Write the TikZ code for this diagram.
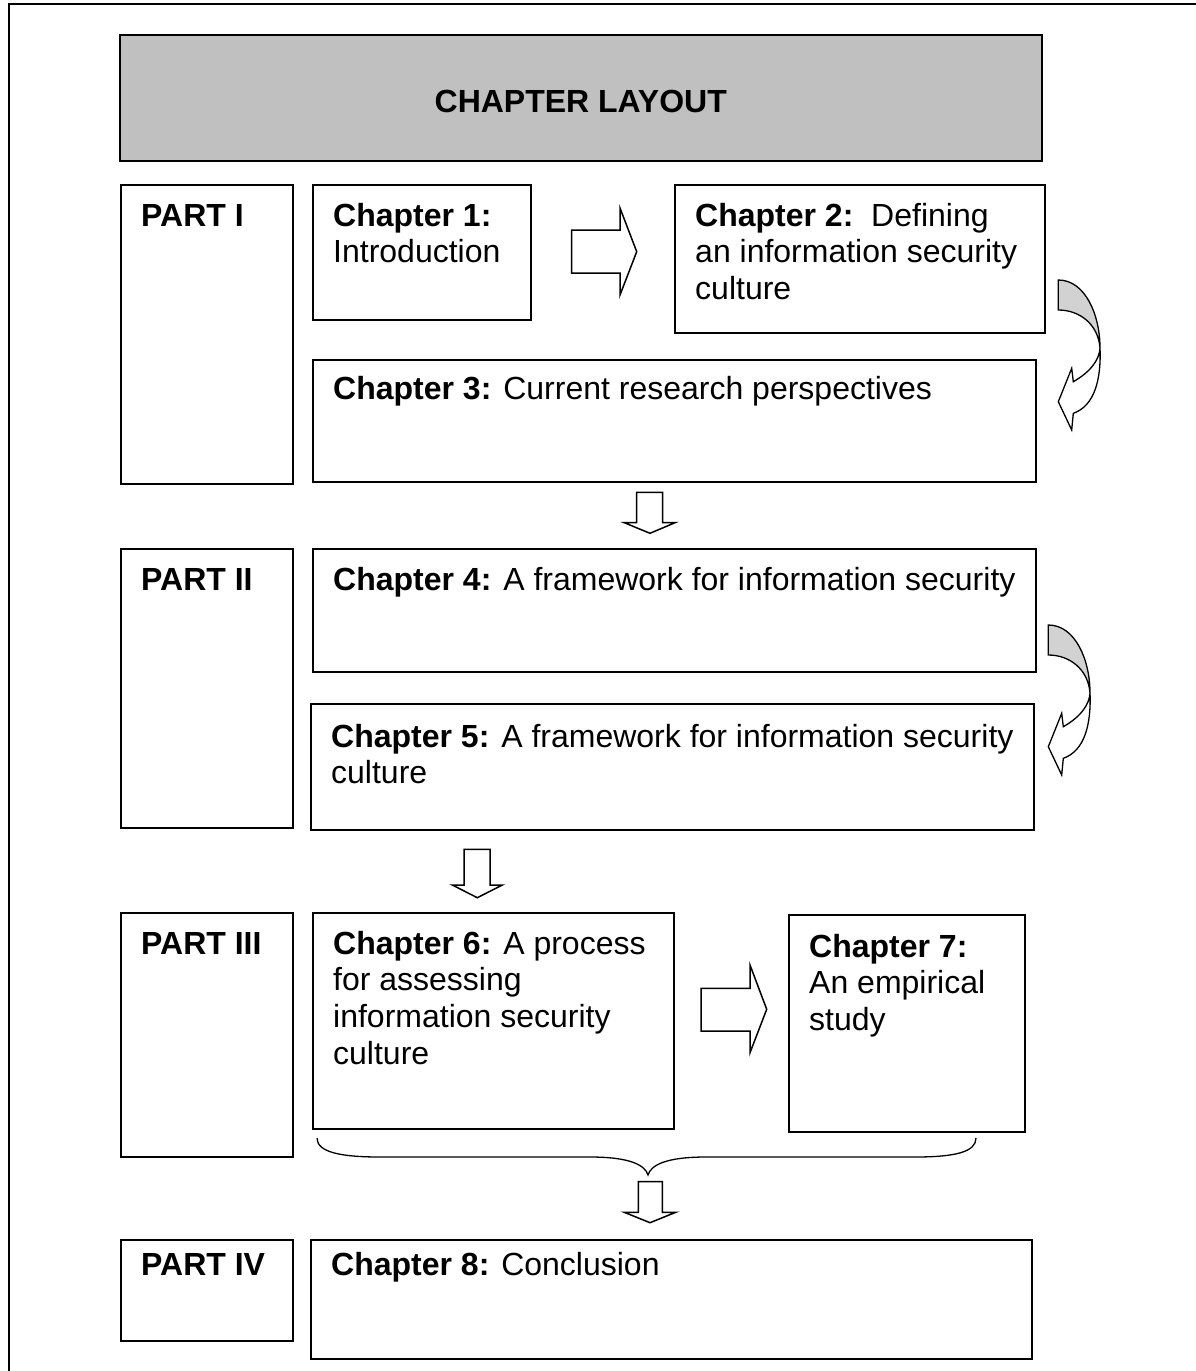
\documentclass[tikz,border=0pt]{standalone}
\usepackage{fontspec}
\setmainfont{Liberation Sans}
\usetikzlibrary{calc}
\definecolor{titlegray}{RGB}{192,192,192}
\definecolor{backgray}{RGB}{210,210,210}
\begin{document}
\begin{tikzpicture}[x=1pt,y=-1pt,line join=miter,
  box/.style={draw,line width=1.5pt,fill=white,inner sep=0pt,anchor=north west},
  txt/.style={anchor=north west,inner sep=0pt,align=left,font=\fontsize{32}{36.8}\selectfont},
  blockarrow/.style={draw,fill=white,line width=1.5pt},
  curvarrow/.pic={
    \filldraw[fill=backgray,line width=1.3pt] (0,0) .. controls (27,0) and (41.7,35) .. (41.7,68)
      .. controls (40,45) and (22,30) .. (0,30) -- cycle;
    \filldraw[fill=white,line width=1.3pt] (41.7,68) .. controls (43,100) and (36,126) .. (15,133.3)
      -- (13.4,150) -- (0,121.7) -- (13.4,88.3) -- (15,101.7)
      .. controls (32,92) and (41,80) .. (41.7,68) -- cycle;
  }]
\useasboundingbox (0,0) rectangle (1196,1371);
% outer frame (open at right and bottom)
\draw[line width=2pt] (9,1380) -- (9,4) -- (1205,4);

% title
\node[box,fill=titlegray,minimum width=922,minimum height=126] (title) at (119,34) {};
\node[font=\fontsize{32}{36.8}\selectfont\bfseries,inner sep=0pt] (titletxt) at ($(title.center)+(0,4)$) {CHAPTER LAYOUT};

% boxes
\node[box,minimum width=172,minimum height=299] (p1) at (120,184) {};
\node[box,minimum width=218,minimum height=135] (c1) at (312,184) {};
\node[box,minimum width=370,minimum height=148] (c2) at (674,184) {};
\node[box,minimum width=723,minimum height=122] (c3) at (312,359) {};
\node[box,minimum width=172,minimum height=279] (p2) at (120,548) {};
\node[box,minimum width=723,minimum height=123] (c4) at (312,548) {};
\node[box,minimum width=723,minimum height=126] (c5) at (310,703) {};
\node[box,minimum width=172,minimum height=244] (p3) at (120,912) {};
\node[box,minimum width=361,minimum height=216] (c6) at (312,912) {};
\node[box,minimum width=236,minimum height=217] (c7) at (788,914) {};
\node[box,minimum width=172,minimum height=101] (p4) at (120,1239) {};
\node[box,minimum width=721,minimum height=119] (c8) at (310,1239) {};

% texts
\node[txt] (tp1) at ($(p1.north west)+(21,16.2)$) {\strut\textbf{PART I}};
\node[txt] (tc1) at ($(c1.north west)+(21,16.2)$) {\strut\textbf{Chapter 1:}\\Introduction};
\node[txt] (tc2) at ($(c2.north west)+(21,16.2)$) {\strut\textbf{Chapter 2:}\ \ Defining\\an information security\\culture};
\node[txt] (tc3) at ($(c3.north west)+(21,14.2)$) {\strut\textbf{Chapter 3:} Current research perspectives};
\node[txt] (tp2) at ($(p2.north west)+(21,16.2)$) {\strut\textbf{PART II}};
\node[txt] (tc4) at ($(c4.north west)+(21,16.2)$) {\strut\textbf{Chapter 4:} A framework for information security};
\node[txt] (tc5) at ($(c5.north west)+(21,18.2)$) {\strut\textbf{Chapter 5:} A framework for information security\\culture};
\node[txt] (tp3) at ($(p3.north west)+(21,16.2)$) {\strut\textbf{PART III}};
\node[txt] (tc6) at ($(c6.north west)+(21,16.2)$) {\strut\textbf{Chapter 6:} A process\\for assessing\\information security\\culture};
\node[txt] (tc7) at ($(c7.north west)+(21,17.2)$) {\strut\textbf{Chapter 7:}\\An empirical\\study};
\node[txt] (tp4) at ($(p4.north west)+(21,10.2)$) {\strut\textbf{PART IV}};
\node[txt] (tc8) at ($(c8.north west)+(21,10.2)$) {\strut\textbf{Chapter 8:} Conclusion};

% block arrows
\draw[blockarrow] (571.7,230) -- (620,230) -- (620,208) -- (636.7,251.7) -- (620,295) -- (620,273) -- (571.7,273) -- cycle;
\draw[blockarrow] (701,988.3) -- (750,988.3) -- (750,965) -- (766.7,1009.3) -- (750,1052.7) -- (750,1031) -- (701,1031) -- cycle;
\draw[blockarrow] (636.7,492.3) -- (662.7,492.3) -- (662.7,522.7) -- (675,522.7) -- (650,533.3) -- (624.3,522.7) -- (636.7,522.7) -- cycle;
\draw[blockarrow] (464,849.3) -- (490,849.3) -- (490,885) -- (502.3,885) -- (477.3,897.7) -- (452.3,885) -- (464,885) -- cycle;
\draw[blockarrow] (638.3,1181.7) -- (662.3,1181.7) -- (662.3,1212.3) -- (675.7,1212.3) -- (650,1222.7) -- (624.3,1212.3) -- (638.3,1212.3) -- cycle;

% curved arrows
\pic at (1058.3,280) {curvarrow};
\pic at (1048.3,625) {curvarrow};

% brace
\draw[line width=1.3pt] (317,1138) .. controls (317,1152) and (340,1157) .. (380,1157) -- (590,1157)
  .. controls (630,1157) and (645,1165) .. (648,1175)
  .. controls (651,1165) and (666,1157) .. (706,1157) -- (915,1157)
  .. controls (955,1157) and (976,1152) .. (976,1138);
\end{tikzpicture}
\end{document}
